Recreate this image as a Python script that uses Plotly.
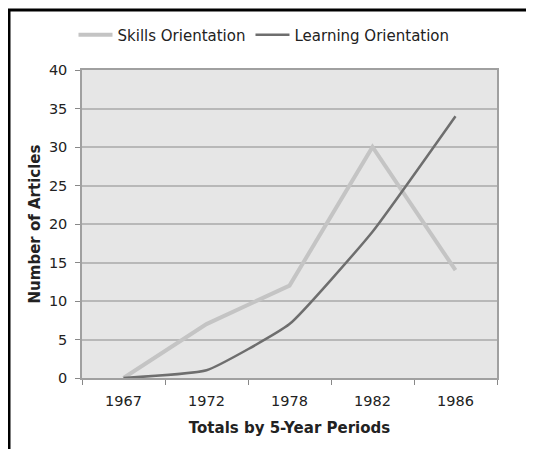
import plotly.graph_objects as go

periods = ["1967", "1972", "1978", "1982", "1986"]
skills = [0, 7, 12, 30, 14]
learning = [0, 1, 7, 19, 34]

# page has an 8px body offset; figure sized to fit the 534x449 window
OFF = 8
W, H = 534 - OFF, 449 - OFF
L, R, T, B = 74, 37, 62, 71
pw, ph = W - L - R, H - T - B

def px(x):  # page pixel -> paper x
    return (x - OFF - L) / pw

def py(y):  # page pixel -> paper y
    return (H - B - (y - OFF)) / ph

fig = go.Figure()
fig.add_trace(go.Scatter(x=periods, y=skills, mode="lines", name="Skills Orientation",
                         line=dict(color="#c4c4c4", width=4)))
fig.add_trace(go.Scatter(x=periods, y=learning, mode="lines", name="Learning Orientation",
                         line=dict(color="#6e6e6e", width=2.5, shape="spline", smoothing=0.4)))

font = "Verdana, DejaVu Sans, sans-serif"
fig.update_layout(
    width=W, height=H,
    margin=dict(l=L, r=R, t=T, b=B, autoexpand=False),
    paper_bgcolor="white",
    plot_bgcolor="#e6e6e6",
    font=dict(family=font, size=15, color="#222"),
    showlegend=True,
    legend=dict(orientation="h", x=px(264), xanchor="center",
                y=py(35), yanchor="middle", font=dict(size=15, color="#222"),
                itemwidth=34, tracegroupgap=0, bgcolor="rgba(0,0,0,0)"),
    xaxis=dict(type="category", tickson="boundaries", ticks="outside", ticklen=5,
               range=[-0.5, 4.5], ticklabelstandoff=9,
               tickcolor="#888", showgrid=False, showline=True, linecolor="#a0a0a0",
               linewidth=1.5, mirror=True, zeroline=False, tickangle=0,
               title=dict(text="<b>Totals by 5-Year Periods</b>", font=dict(size=15), standoff=14),
               tickfont=dict(size=14.5)),
    yaxis=dict(range=[0, 40], dtick=5, ticks="outside", ticklen=5, tickcolor="#888",
               ticklabelstandoff=5,
               showgrid=True, gridcolor="#b8b8b8", gridwidth=1.5,
               showline=True, linecolor="#a0a0a0", linewidth=1.5, mirror=True, zeroline=False,
               title=dict(text="<b>Number of Articles</b>", font=dict(size=15), standoff=5),
               tickfont=dict(size=14.5)),
)

# frame lines (left and top)
fig.add_shape(type="line", xref="paper", yref="paper", x0=px(9), x1=px(9), y0=py(9), y1=py(460),
              line=dict(color="black", width=3))
fig.add_shape(type="line", xref="paper", yref="paper", x0=px(8), x1=px(540), y0=py(10), y1=py(10),
              line=dict(color="black", width=3))

fig.write_html("out.html")
